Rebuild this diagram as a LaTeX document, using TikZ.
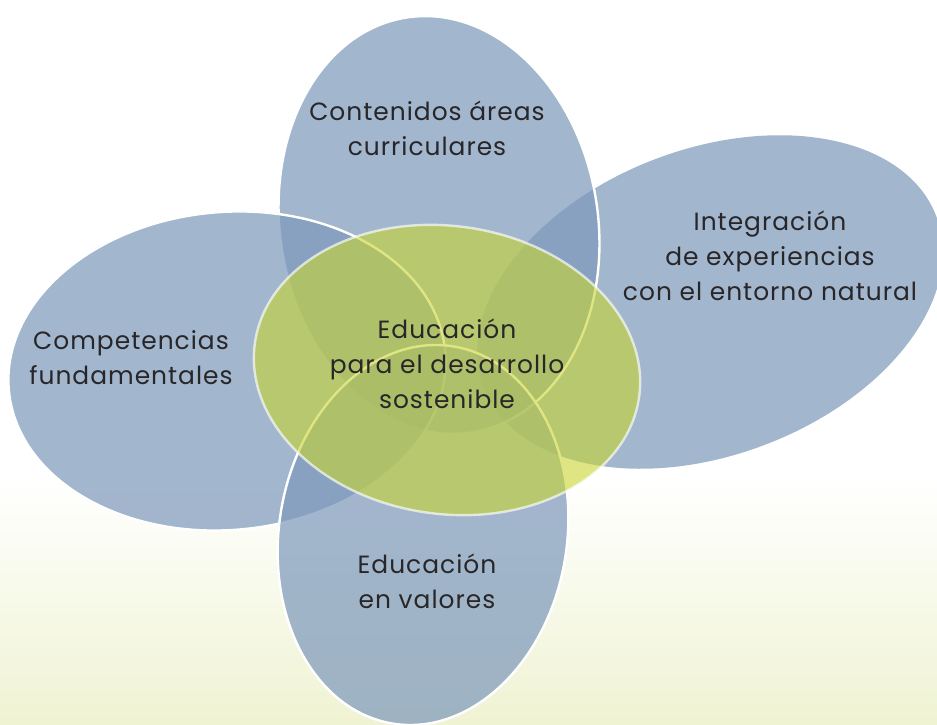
\documentclass[tikz,border=0pt]{standalone}
\usepackage{fontspec}
\setmainfont{Poppins}[LetterSpace=4]
\definecolor{blobblue}{RGB}{127,154,188}
\definecolor{blobgreen}{RGB}{200,213,47}
\definecolor{txt}{RGB}{40,38,40}
\definecolor{bgyellow}{RGB}{239,243,210}
\tikzset{
  blob/.style={fill=blobblue, fill opacity=0.72},
  blobline/.style={blob, draw=white, line width=2.4bp, draw opacity=1},
  centerblob/.style={fill=blobgreen, fill opacity=0.6, draw=white, draw opacity=0.65, line width=2.4bp},
  label/.style={align=center, text=txt, font=\fontsize{25}{35}\selectfont, inner sep=0pt}
}
\begin{document}
\begin{tikzpicture}[x=1bp,y=-1bp]
\useasboundingbox (0,0) rectangle (937,725);
\clip (0,0) rectangle (937,725);
% background
\fill[white] (0,0) rectangle (937,725);
\shade[top color=white, bottom color=bgyellow] (0,480) rectangle (937,726);
% ellipses
\path[blob, rotate around={20.7:(710,302)}] (710,302) ellipse [x radius=242, y radius=153];
\path[blobline, rotate around={9:(439,225)}] (439,225) ellipse [x radius=159, y radius=210];
\path[blobline, rotate around={5:(227,371)}] (227,371) ellipse [x radius=219, y radius=159];
\path[blobline, rotate around={-9:(423,535)}] (423,535) ellipse [x radius=144, y radius=191];
\path[centerblob, rotate around={-8:(447,370)}] (447,370) ellipse [x radius=194, y radius=144];
% labels
\node[label] (cont) at (427,128) {Contenidos áreas\\curriculares};
\node[label] (integ) at (770,256) {Integración\\de experiencias\\con el entorno natural};
\node[label] (comp) at (131,358) {Competencias\\fundamentales};
\node[label] (eds) at (447,364) {Educación\\para el desarrollo\\sostenible};
\node[label] (valores) at (427,581) {Educación\\en valores};
\end{tikzpicture}
\end{document}
